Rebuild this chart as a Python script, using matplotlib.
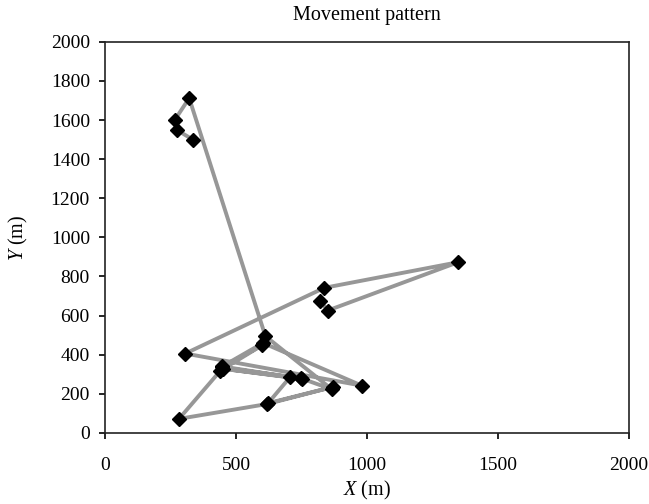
import matplotlib.pyplot as plt

# positions visited, in order of movement (m)
X_POS = [335, 273, 266, 321, 612, 866, 747, 445, 599, 440, 282, 619, 872,
         622, 706, 450, 750, 447, 603, 980, 306, 837, 1348, 850, 822]
Y_POS = [1500, 1550, 1601, 1712, 495, 223, 280, 335, 448, 318, 72, 148, 236,
         152, 285, 328, 276, 340, 460, 242, 406, 742, 873, 626, 675]

X_TICKS = [0, 500, 1000, 1500, 2000]
Y_TICKS = list(range(0, 2001, 200))

plt.rcParams['font.family'] = 'Liberation Serif'
plt.rcParams['mathtext.fontset'] = 'custom'
plt.rcParams['mathtext.rm'] = 'Liberation Serif'
plt.rcParams['mathtext.it'] = 'Liberation Serif:italic'

fig = plt.figure(figsize=(6.49, 5.04), dpi=100)
ax = fig.add_axes([0.162, 0.141, 0.807, 0.776])

ax.plot(X_POS, Y_POS, color='#979797', lw=2.8, zorder=1)
ax.plot(X_POS, Y_POS, ls='none', marker='D', ms=6.8, color='black', zorder=2)

ax.set_xlim(0, 2000)
ax.set_ylim(0, 2000)
ax.set_xticks(X_TICKS)
ax.set_yticks(Y_TICKS)
ax.tick_params(direction='out', length=4, width=1.2, labelsize=14, color='black',
               top=False, right=False)
ax.tick_params(axis='x', pad=13)
ax.tick_params(axis='y', pad=7)
for s in ax.spines.values():
    s.set_color('#222')
    s.set_linewidth(1.2)

ax.set_xlabel('$X$ (m)', fontsize=14.5, labelpad=4)
ax.set_ylabel('$Y$ (m)', fontsize=14.5, labelpad=15)
ax.set_title('Movement pattern', fontsize=14.5, pad=16)

fig.savefig('out.png', dpi=100)
